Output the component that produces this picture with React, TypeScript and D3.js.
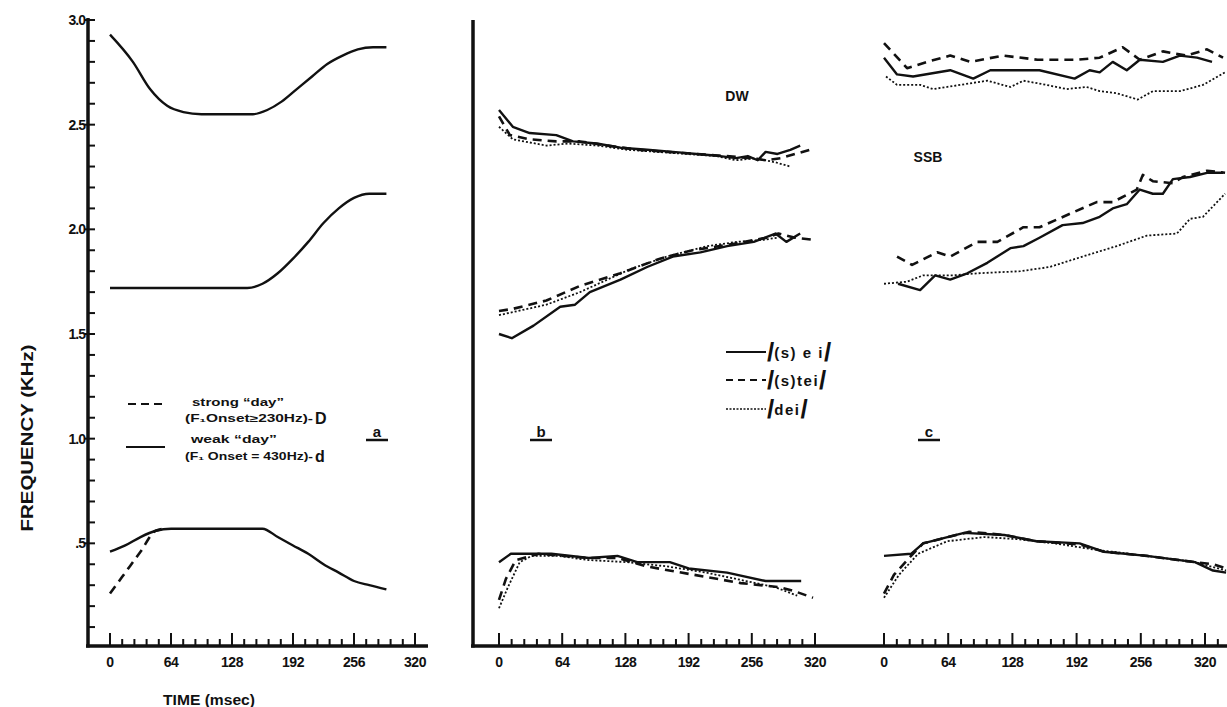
import React, { useEffect, useRef } from 'react';
import * as d3 from 'd3';

type Pt = [number, number];

// tick labels
const TIME_TICKS = [0, 64, 128, 192, 256, 320];
const FREQ_TICKS = [3.0, 2.5, 2.0, 1.5, 1.0, 0.5];
const FREQ_LABELS = ['3.0', '2.5', '2.0', '1.5', '1.0', '.5'];

// panel a: synthetic stimuli (t msec, f kHz)
const aF3: Pt[] = [[0, 2.93], [24, 2.8], [42, 2.67], [60, 2.59], [77, 2.56], [96, 2.55], [150, 2.55], [165, 2.57], [180, 2.61], [196, 2.67], [212, 2.73], [228, 2.79], [244, 2.83], [260, 2.86], [276, 2.87], [290, 2.87]];
const aF2: Pt[] = [[0, 1.72], [144, 1.72], [160, 1.74], [176, 1.79], [192, 1.86], [208, 1.94], [224, 2.03], [240, 2.1], [256, 2.15], [272, 2.17], [290, 2.17]];
const aF1Weak: Pt[] = [[0, 0.46], [16, 0.49], [32, 0.53], [48, 0.56], [64, 0.57], [160, 0.57], [176, 0.53], [192, 0.49], [208, 0.45], [224, 0.4], [240, 0.36], [256, 0.32], [272, 0.3], [290, 0.28]];
const aF1Strong: Pt[] = [[0, 0.26], [16, 0.36], [32, 0.46], [48, 0.56], [58, 0.57]];

// panel b: DW
const bF3Solid: Pt[] = [[0, 2.57], [14, 2.49], [31, 2.46], [58, 2.45], [75, 2.42], [99, 2.41], [123, 2.39], [150, 2.38], [176, 2.37], [200, 2.36], [224, 2.35], [240, 2.34], [252, 2.35], [262, 2.33], [270, 2.37], [282, 2.36], [295, 2.38], [305, 2.4]];
const bF3Dashed: Pt[] = [[0, 2.54], [11, 2.45], [31, 2.43], [58, 2.42], [82, 2.42], [110, 2.4], [140, 2.38], [170, 2.37], [200, 2.36], [230, 2.35], [255, 2.34], [270, 2.33], [285, 2.34], [300, 2.36], [315, 2.38]];
const bF3Dotted: Pt[] = [[0, 2.49], [14, 2.43], [48, 2.4], [70, 2.41], [100, 2.4], [130, 2.38], [160, 2.37], [190, 2.36], [220, 2.35], [240, 2.33], [260, 2.34], [280, 2.32], [295, 2.3]];
const bF2Solid: Pt[] = [[0, 1.5], [13, 1.48], [35, 1.54], [62, 1.63], [77, 1.64], [92, 1.7], [123, 1.76], [150, 1.82], [176, 1.87], [204, 1.89], [231, 1.92], [258, 1.94], [280, 1.98], [291, 1.94], [305, 1.98]];
const bF2Dashed: Pt[] = [[0, 1.61], [14, 1.62], [48, 1.66], [82, 1.73], [123, 1.79], [163, 1.86], [196, 1.9], [237, 1.93], [271, 1.96], [283, 1.98], [300, 1.96], [318, 1.95]];
const bF2Dotted: Pt[] = [[0, 1.59], [48, 1.64], [82, 1.7], [133, 1.81], [170, 1.87], [211, 1.92], [241, 1.94], [268, 1.95], [282, 1.96]];
const bF1Solid: Pt[] = [[0, 0.41], [12, 0.45], [53, 0.45], [91, 0.43], [120, 0.44], [140, 0.41], [173, 0.41], [192, 0.38], [231, 0.36], [270, 0.32], [306, 0.32]];
const bF1Dashed: Pt[] = [[0, 0.23], [7, 0.33], [17, 0.42], [40, 0.45], [91, 0.43], [120, 0.43], [149, 0.39], [197, 0.35], [245, 0.31], [285, 0.29], [300, 0.27], [312, 0.25], [318, 0.24]];
const bF1Dotted: Pt[] = [[0, 0.19], [9, 0.29], [21, 0.41], [33, 0.44], [60, 0.44], [91, 0.42], [130, 0.41], [170, 0.39], [210, 0.36], [250, 0.32], [280, 0.29], [302, 0.25]];

// panel c: SSB
const cF3Solid: Pt[] = [[0, 2.82], [13, 2.74], [29, 2.73], [66, 2.76], [89, 2.72], [106, 2.76], [155, 2.76], [190, 2.72], [205, 2.76], [215, 2.75], [228, 2.8], [242, 2.76], [255, 2.81], [278, 2.8], [295, 2.83], [312, 2.82], [327, 2.8]];
const cF3Dashed: Pt[] = [[0, 2.89], [23, 2.77], [43, 2.8], [66, 2.83], [86, 2.8], [119, 2.83], [153, 2.81], [192, 2.81], [215, 2.82], [238, 2.87], [255, 2.81], [278, 2.85], [302, 2.83], [322, 2.86], [338, 2.82]];
const cF3Dotted: Pt[] = [[2, 2.73], [13, 2.69], [36, 2.69], [49, 2.67], [76, 2.69], [103, 2.71], [126, 2.68], [139, 2.71], [162, 2.69], [182, 2.67], [202, 2.68], [215, 2.66], [232, 2.65], [253, 2.62], [268, 2.66], [295, 2.66], [318, 2.69], [340, 2.75]];
const cF2Solid: Pt[] = [[14, 1.74], [36, 1.71], [51, 1.78], [66, 1.76], [83, 1.79], [103, 1.84], [126, 1.91], [139, 1.92], [155, 1.96], [178, 2.02], [198, 2.03], [215, 2.06], [228, 2.1], [242, 2.12], [255, 2.19], [268, 2.17], [278, 2.17], [288, 2.24], [305, 2.25], [322, 2.27], [338, 2.27]];
const cF2Dashed: Pt[] = [[13, 1.87], [28, 1.83], [53, 1.89], [66, 1.87], [93, 1.94], [113, 1.94], [139, 2.01], [155, 2.01], [188, 2.08], [212, 2.13], [228, 2.13], [252, 2.19], [258, 2.26], [268, 2.23], [288, 2.22], [298, 2.25], [322, 2.28], [340, 2.27]];
const cF2Dotted: Pt[] = [[0, 1.74], [23, 1.75], [39, 1.78], [69, 1.78], [93, 1.79], [136, 1.8], [165, 1.82], [198, 1.87], [232, 1.92], [262, 1.97], [292, 1.98], [305, 2.05], [318, 2.06], [340, 2.17]];
const cF1Solid: Pt[] = [[0, 0.44], [27, 0.45], [39, 0.5], [72, 0.54], [80, 0.55], [120, 0.54], [152, 0.51], [195, 0.5], [219, 0.46], [262, 0.44], [310, 0.41], [328, 0.37], [341, 0.36]];
const cF1Dashed: Pt[] = [[0, 0.26], [10, 0.35], [27, 0.44], [39, 0.5], [72, 0.54], [85, 0.555], [120, 0.54], [152, 0.51], [195, 0.495], [219, 0.46], [262, 0.44], [310, 0.41], [328, 0.4], [341, 0.38]];
const cF1Dotted: Pt[] = [[0, 0.24], [15, 0.35], [34, 0.45], [63, 0.51], [100, 0.53], [133, 0.52], [170, 0.5], [210, 0.47], [262, 0.44], [310, 0.41], [341, 0.37]];

const FONT = "'Liberation Sans', Arial, sans-serif";

const styles: Record<string, { w: number; dash: string | null }> = {
  solid: { w: 2.4, dash: null },
  dashed: { w: 2.6, dash: '9,6' },
  dotted: { w: 1.8, dash: '2,2' },
};

const App: React.FC = () => {
  const svgRef = useRef<SVGSVGElement>(null);

  useEffect(() => {
    if (!svgRef.current) return;
    const svg = d3.select(svgRef.current);
    svg.selectAll('*').remove();

    const width = 1227;
    const height = 707;
    const baseY = 646;

    svg.append('rect').attr('width', width).attr('height', height).attr('fill', '#fff');

    const y = d3.scaleLinear().domain([0, 3]).range([648, 20]);
    const xA = d3.scaleLinear().domain([0, 320]).range([110, 415]);
    const xB = d3.scaleLinear().domain([0, 320]).range([499, 815]);
    const xC = d3.scaleLinear().domain([0, 320]).range([884, 1205]);

    const ink = '#111';

    // axes lines
    svg.append('line').attr('x1', 88).attr('x2', 88).attr('y1', 18).attr('y2', baseY + 1.5)
      .attr('stroke', ink).attr('stroke-width', 3.5);
    svg.append('line').attr('x1', 86).attr('x2', 428).attr('y1', baseY).attr('y2', baseY)
      .attr('stroke', ink).attr('stroke-width', 3.5);
    svg.append('line').attr('x1', 473).attr('x2', 473).attr('y1', 20).attr('y2', baseY + 1.5)
      .attr('stroke', ink).attr('stroke-width', 3.5);
    svg.append('line').attr('x1', 471).attr('x2', width).attr('y1', baseY).attr('y2', baseY)
      .attr('stroke', ink).attr('stroke-width', 3.5);

    // y ticks on panel a
    const yTicks = d3.range(1, 31).map((i) => i / 10);
    svg.append('g').selectAll('line').data(yTicks).enter().append('line')
      .attr('x1', (d) => (Math.round(d * 10) % 5 === 0 ? 84 : 88))
      .attr('x2', 95)
      .attr('y1', (d) => y(d)).attr('y2', (d) => y(d))
      .attr('stroke', ink).attr('stroke-width', 2);

    svg.append('g').selectAll('text').data(FREQ_TICKS).enter().append('text')
      .attr('x', 85).attr('y', (d) => y(d) + 5)
      .attr('text-anchor', 'end')
      .attr('font-family', FONT).attr('font-weight', 'bold').attr('font-size', 14)
      .attr('letter-spacing', -1).attr('fill', ink)
      .text((d, i) => FREQ_LABELS[i]);

    // x ticks
    const drawXTicks = (x: d3.ScaleLinear<number, number>, maxT: number) => {
      const minor = d3.range(0, maxT + 0.01, 12.8);
      const g = svg.append('g');
      g.selectAll('line').data(minor).enter().append('line')
        .attr('x1', (d) => x(d)).attr('x2', (d) => x(d))
        .attr('y1', baseY)
        .attr('y2', (d) => (Math.abs(d / 64 - Math.round(d / 64)) < 0.01 ? baseY - 13 : baseY - 7))
        .attr('stroke', ink).attr('stroke-width', 2);
      g.selectAll('text').data(TIME_TICKS).enter().append('text')
        .attr('x', (d) => x(d)).attr('y', baseY + 21)
        .attr('text-anchor', 'middle')
        .attr('font-family', FONT).attr('font-weight', 'bold').attr('font-size', 14)
        .attr('letter-spacing', -0.5).attr('fill', ink)
        .text((d) => String(d));
    };
    drawXTicks(xA, 320);
    drawXTicks(xB, 320);
    drawXTicks(xC, 332.8);

    const drawCurve = (
      data: Pt[],
      x: d3.ScaleLinear<number, number>,
      kind: string,
      curve: d3.CurveFactory = d3.curveLinear
    ) => {
      const line = d3.line<Pt>().x((d) => x(d[0])).y((d) => y(d[1])).curve(curve);
      const s = styles[kind];
      const p = svg.append('path').attr('d', line(data) || '')
        .attr('fill', 'none').attr('stroke', ink)
        .attr('stroke-width', s.w).attr('stroke-linejoin', 'round');
      if (s.dash) p.attr('stroke-dasharray', s.dash);
    };

    // panel a
    drawCurve(aF3, xA, 'solid', d3.curveMonotoneX);
    drawCurve(aF2, xA, 'solid', d3.curveMonotoneX);
    drawCurve(aF1Weak, xA, 'solid', d3.curveMonotoneX);
    drawCurve(aF1Strong, xA, 'dashed', d3.curveMonotoneX);

    // panel b
    [bF3Solid, bF2Solid, bF1Solid].forEach((d) => drawCurve(d, xB, 'solid'));
    [bF3Dashed, bF2Dashed, bF1Dashed].forEach((d) => drawCurve(d, xB, 'dashed'));
    [bF3Dotted, bF2Dotted, bF1Dotted].forEach((d) => drawCurve(d, xB, 'dotted'));

    // panel c
    [cF3Solid, cF2Solid, cF1Solid].forEach((d) => drawCurve(d, xC, 'solid'));
    [cF3Dashed, cF2Dashed, cF1Dashed].forEach((d) => drawCurve(d, xC, 'dashed'));
    [cF3Dotted, cF2Dotted, cF1Dotted].forEach((d) => drawCurve(d, xC, 'dotted'));

    const text = (x: number, yy: number, s: string, size: number, anchor = 'start') =>
      svg.append('text').attr('x', x).attr('y', yy).attr('text-anchor', anchor)
        .attr('font-family', FONT).attr('font-weight', 'bold').attr('font-size', size)
        .attr('fill', ink).text(s);

    // axis titles
    svg.append('text')
      .attr('transform', 'translate(33,438) rotate(-90)')
      .attr('text-anchor', 'middle')
      .attr('font-family', FONT).attr('font-size', 17).attr('font-weight', 600)
      .attr('textLength', 187).attr('lengthAdjust', 'spacingAndGlyphs')
      .attr('fill', ink).text('FREQUENCY  (KHz)');
    svg.append('text').attr('x', 163).attr('y', 705)
      .attr('font-family', FONT).attr('font-size', 14).attr('font-weight', 600)
      .attr('textLength', 92).attr('lengthAdjust', 'spacingAndGlyphs')
      .attr('fill', ink).text('TIME  (msec)');

    // panel labels
    text(737, 101, 'DW', 14, 'middle');
    text(928, 162, 'SSB', 14, 'middle');
    const under = (x: number, s: string) => {
      text(x, 437, s, 15, 'middle');
      svg.append('line').attr('x1', x - 11).attr('x2', x + 11).attr('y1', 440).attr('y2', 440)
        .attr('stroke', ink).attr('stroke-width', 2.5);
    };
    under(377, 'a');
    under(541, 'b');
    under(929, 'c');

    // legend a
    svg.append('line').attr('x1', 128).attr('x2', 164).attr('y1', 404).attr('y2', 404)
      .attr('stroke', ink).attr('stroke-width', 2.2).attr('stroke-dasharray', '8,5');
    svg.append('line').attr('x1', 126).attr('x2', 165).attr('y1', 447).attr('y2', 447)
      .attr('stroke', ink).attr('stroke-width', 2.2);
    const small = (x: number, yy: number, s: string, len: number) =>
      svg.append('text').attr('x', x).attr('y', yy)
        .attr('font-family', FONT).attr('font-weight', 'bold').attr('font-size', 10)
        .attr('textLength', len).attr('lengthAdjust', 'spacingAndGlyphs')
        .attr('fill', ink).text(s);
    small(192, 406, 'strong  \u201Cday\u201D', 92);
    small(185, 422, '(F\u2081Onset\u2265230Hz)-', 128);
    text(315, 424, 'D', 16);
    small(191, 443, 'weak  \u201Cday\u201D', 86);
    small(185, 460, '(F\u2081 Onset = 430Hz)-', 128);
    text(315, 462, 'd', 16);

    // legend b
    const legendB: [string, string, number][] = [
      ['solid', '(s) e i', 352],
      ['dashed', '(s)tei', 380],
      ['dotted', 'dei', 409],
    ];
    legendB.forEach(([kind, label, ly]) => {
      const s = styles[kind];
      const l = svg.append('line').attr('x1', 726).attr('x2', 766).attr('y1', ly).attr('y2', ly)
        .attr('stroke', ink).attr('stroke-width', kind === 'dotted' ? 1.6 : 2.2);
      if (s.dash) l.attr('stroke-dasharray', kind === 'dashed' ? '7,5' : '2,1.5');
      const t = svg.append('text').attr('x', 767).attr('y', ly + 6)
        .attr('font-family', FONT).attr('font-weight', 'bold').attr('fill', ink);
      t.append('tspan').attr('font-size', 26).attr('dy', 3).text('/');
      t.append('tspan').attr('font-size', 15).attr('dy', -3).attr('letter-spacing', 1.5).text(label);
      t.append('tspan').attr('font-size', 26).attr('dy', 3).text('/');
    });
  }, []);

  return (
    <svg
      ref={svgRef}
      width={1227}
      height={707}
      style={{ position: 'absolute', left: 0, top: 0, display: 'block' }}
    />
  );
};

export default App;
